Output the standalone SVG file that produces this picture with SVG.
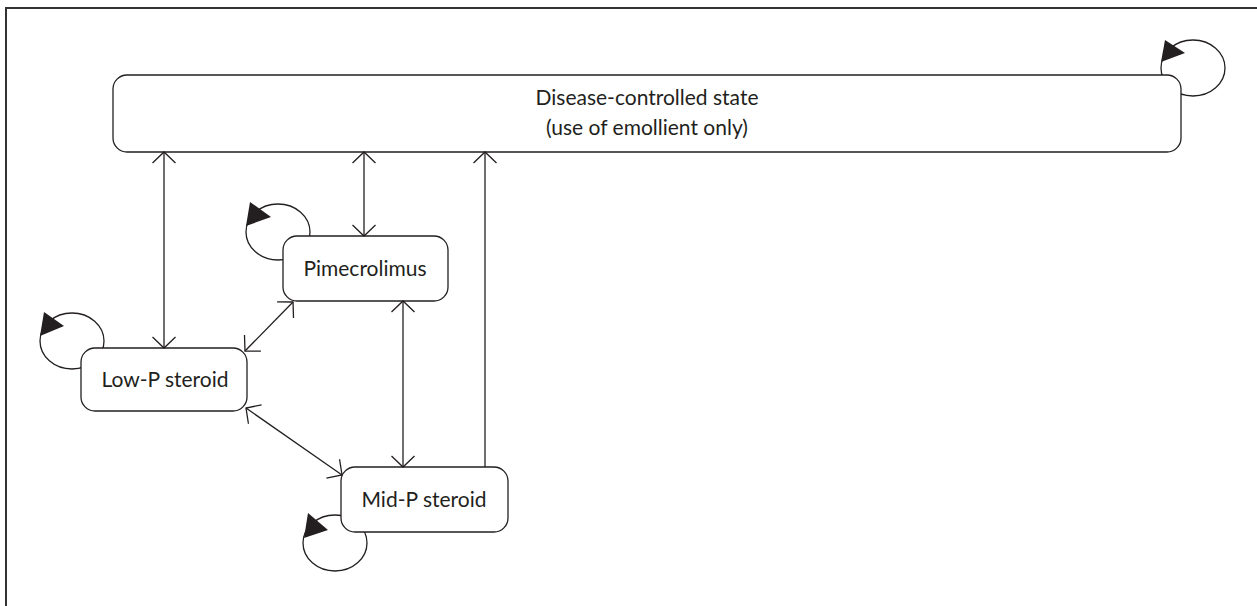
<svg xmlns="http://www.w3.org/2000/svg" width="1257" height="606" viewBox="0 0 1257 606">
<defs>
<style>
.node rect{fill:#fff;stroke:#231f20;stroke-width:1.3}
.lbl{font-family:Lato,"Liberation Sans",sans-serif;font-size:21px;fill:#231f20;text-anchor:middle}
.loop{fill:none;stroke:#231f20;stroke-width:1.3}
.head{fill:#231f20}
.conn line{stroke:#231f20;stroke-width:1.3}
</style>
<marker id="arr" viewBox="-13 -13 16 26" markerWidth="16" markerHeight="26" refX="0" refY="0" orient="auto-start-reverse" markerUnits="userSpaceOnUse">
<path d="M-11,-11.5 L0,0 L-11,11.5" fill="none" stroke="#231f20" stroke-width="1.3"/>
</marker>
</defs>
<rect width="1257" height="606" fill="#fff"/>
<path d="M6,606 V8 H1257" fill="none" stroke="#333" stroke-width="2"/>

<g id="disease">
<ellipse class="loop" cx="1193" cy="68" rx="32" ry="28"/>
<polygon class="head" points="1165,40 1185,53 1161,62"/>
<g class="node"><rect x="113" y="75" width="1068" height="77" rx="14"/></g>
<text class="lbl" x="647" y="105">Disease-controlled state</text>
<text class="lbl" x="647" y="135">(use of emollient only)</text>
</g>

<g id="pimecrolimus">
<ellipse class="loop" cx="278" cy="232" rx="32" ry="28"/>
<polygon class="head" points="250,202 271,217 246,226"/>
<g class="node"><rect x="283" y="236" width="165" height="65" rx="14"/></g>
<text class="lbl" x="365" y="276">Pimecrolimus</text>
</g>

<g id="lowp">
<ellipse class="loop" cx="72" cy="341" rx="32" ry="28"/>
<polygon class="head" points="44,312 64,326 40,336"/>
<g class="node"><rect x="81" y="348" width="166" height="63" rx="14"/></g>
<text class="lbl" x="165" y="387">Low-P steroid</text>
</g>

<g id="midp">
<ellipse class="loop" cx="335" cy="543" rx="32" ry="28"/>
<polygon class="head" points="308,513 328,530 304,538"/>
<g class="node"><rect x="341" y="467" width="167" height="65" rx="14"/></g>
<text class="lbl" x="424" y="507">Mid-P steroid</text>
</g>

<g id="connectors" class="conn">
<line x1="164" y1="348" x2="164" y2="152" marker-start="url(#arr)" marker-end="url(#arr)"/>
<line x1="364" y1="236" x2="364" y2="152" marker-start="url(#arr)" marker-end="url(#arr)"/>
<line x1="485" y1="467" x2="485" y2="152" marker-end="url(#arr)"/>
<line x1="403" y1="301" x2="403" y2="467" marker-start="url(#arr)" marker-end="url(#arr)"/>
<line x1="245" y1="351" x2="293" y2="302" marker-start="url(#arr)" marker-end="url(#arr)"/>
<line x1="246" y1="408" x2="342" y2="475" marker-start="url(#arr)" marker-end="url(#arr)"/>
</g>
</svg>
